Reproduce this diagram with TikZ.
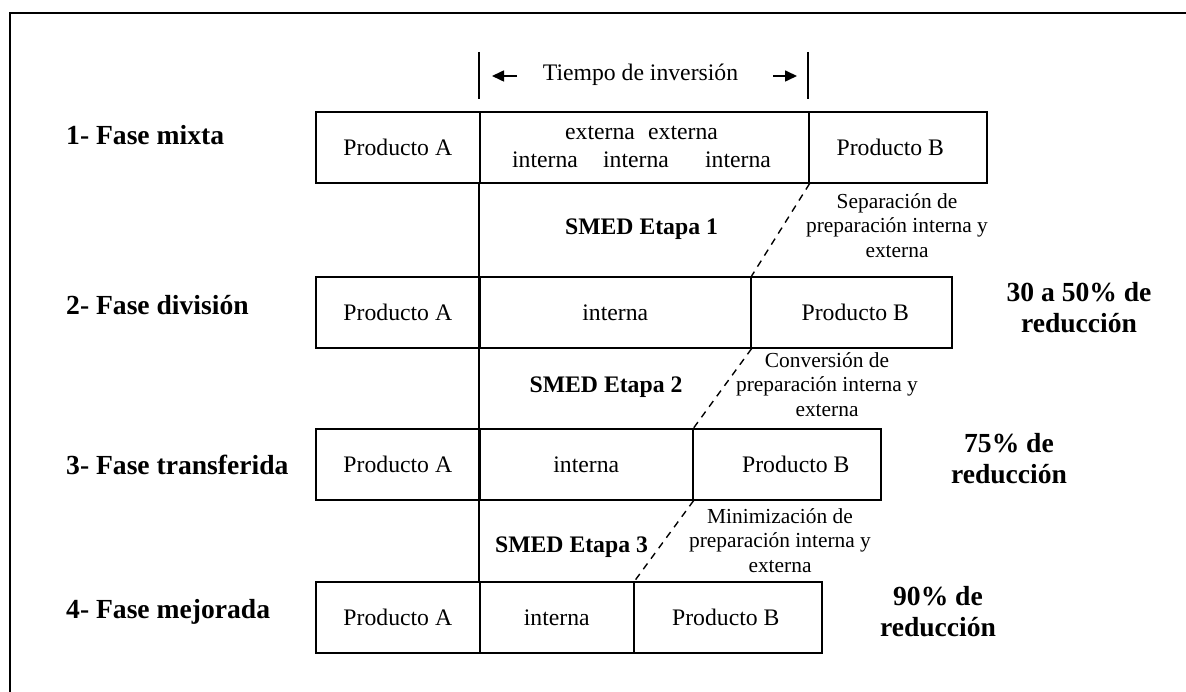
\documentclass[tikz,border=0pt]{standalone}
\usepackage{fontspec}
\setmainfont{Liberation Serif}
\usetikzlibrary{arrows.meta}

\newcommand{\cellfont}{\fontsize{23.7}{28}\selectfont}
\newcommand{\notefont}{\fontsize{21.4}{24.5}\selectfont}
\newcommand{\phasefont}{\fontsize{27.6}{31.5}\selectfont\bfseries}
\newcommand{\smedfont}{\fontsize{23.7}{28}\selectfont\bfseries}

\begin{document}
\begin{tikzpicture}[x=1pt,y=-1pt,
  rule/.style={line width=1.6pt, black},
  cell/.style={draw, line width=1.6pt, minimum height=71pt, inner sep=0pt,
    anchor=north west, font=\cellfont},
  celltext/.style={inner sep=0pt, font=\cellfont},
  phase/.style={inner sep=0pt, anchor=base west, font=\phasefont},
  smed/.style={inner sep=0pt, anchor=base, font=\smedfont},
  note/.style={inner sep=0pt, anchor=north, align=center, font=\notefont},
  gain/.style={inner sep=0pt, anchor=north, align=center, font=\phasefont},
  dashline/.style={line width=1.4pt, dash pattern=on 7pt off 6pt},
  timearrow/.style={line width=1.6pt, -{Triangle[length=12pt,width=11pt]}}]
\useasboundingbox (0,0) rectangle (1186,692);
\clip (0,0) rectangle (1186,692);

% outer frame (runs off the right and bottom edges)
\draw[rule] (10,720) -- (10,13) -- (1220,13);

% time span marker
\coordinate (tk1a) at (479,52);
\coordinate (tk1b) at (479,99);
\coordinate (tk2a) at (808,52);
\coordinate (tk2b) at (808,99);
\draw[rule] (tk1a) -- (tk1b);
\draw[rule] (tk2a) -- (tk2b);
\coordinate (al1) at (517,76);
\coordinate (al2) at (492,76);
\coordinate (ar1) at (773,76);
\coordinate (ar2) at (797,76);
\draw[timearrow] (al1) -- (al2);
\draw[timearrow] (ar1) -- (ar2);
\node[celltext, anchor=base] (tiempo) at (640.5,81) {Tiempo de inversión};

% row 1: fase mixta
\node[cell, minimum width=164pt] (r1a) at (315,111) {Producto A};
\node[cell, minimum width=329pt] (r1m) at (479,111) {};
\node[cell, minimum width=178pt] (r1b) at (808,111) {};
\node[celltext] (r1bt) at ([xshift=-7.5pt]r1b.center) {Producto B};
\node[celltext, anchor=base] (e1) at (600,140) {externa};
\node[celltext, anchor=base] (e2) at (683,140) {externa};
\node[celltext, anchor=base] (i1) at (545,168) {interna};
\node[celltext, anchor=base] (i2) at (636,168) {interna};
\node[celltext, anchor=base] (i3) at (738,168) {interna};

% row 2: fase division
\node[cell, minimum width=164pt] (r2a) at (315,276) {Producto A};
\node[cell, minimum width=271pt] (r2m) at (479,276) {interna};
\node[cell, minimum width=201pt] (r2b) at (750,276) {};
\node[celltext] (r2bt) at ([xshift=4pt]r2b.center) {Producto B};

% row 3: fase transferida
\node[cell, minimum width=164pt] (r3a) at (315,428) {Producto A};
\node[cell, minimum width=213pt] (r3m) at (479,428) {interna};
\node[cell, minimum width=188pt] (r3b) at (692,428) {};
\node[celltext] (r3bt) at ([xshift=9pt]r3b.center) {Producto B};

% row 4: fase mejorada
\node[cell, minimum width=164pt] (r4a) at (315,581) {Producto A};
\node[cell, minimum width=154pt] (r4m) at (479,581) {interna};
\node[cell, minimum width=188pt] (r4b) at (633,581) {};
\node[celltext] (r4bt) at ([xshift=-2pt]r4b.center) {Producto B};

% common start of the changeover
\draw[rule] (r1m.south west) -- (r4m.north west);

% end of the changeover moving left
\draw[dashline] (r1m.south east) -- (r2m.north east);
\draw[dashline] (r2m.south east) -- (r3m.north east);
\draw[dashline] (r3m.south east) -- (r4m.north east);

% phase names
\node[phase] (p1) at (66,145) {1- Fase mixta};
\node[phase] (p2) at (66,315) {2- Fase división};
\node[phase] (p3) at (66,474) {3- Fase transferida};
\node[phase] (p4) at (66,618) {4- Fase mejorada};

% SMED stages
\node[smed] (s1) at (641.5,235) {SMED Etapa 1};
\node[smed] (s2) at (606,392) {SMED Etapa 2};
\node[smed] (s3) at (571.5,552) {SMED Etapa 3};

% stage descriptions
\node[note] (n1) at (897,193.4) {Separación de\\preparación interna y\\externa};
\node[note] (n2) at (827,352.4) {Conversión de\\preparación interna y\\externa};
\node[note] (n3) at (780,508.4) {Minimización de\\preparación interna y\\externa};

% reductions
\node[gain] (d1) at (1079,282) {30 a 50\% de\\reducción};
\node[gain] (d2) at (1009,433) {75\% de\\reducción};
\node[gain] (d3) at (938,586) {90\% de\\reducción};
\end{tikzpicture}
\end{document}
